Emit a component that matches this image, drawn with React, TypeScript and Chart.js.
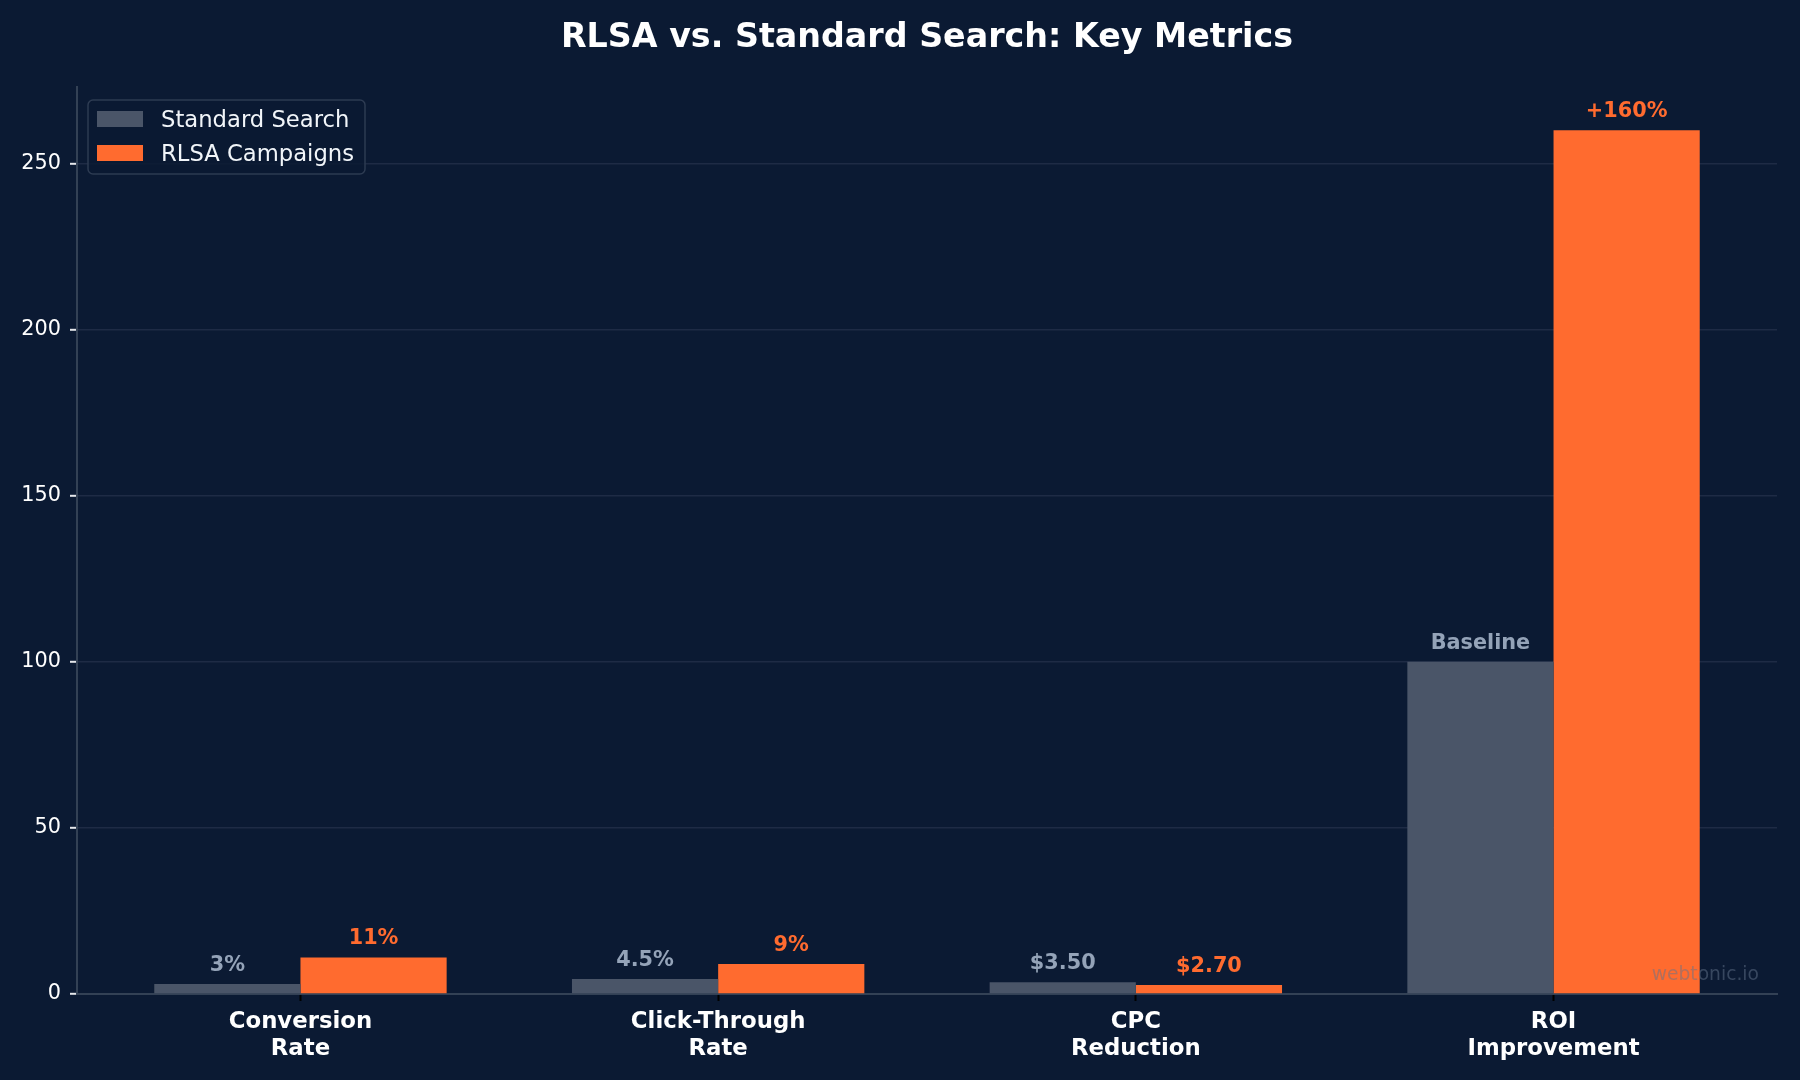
import { useEffect, useRef } from 'react';
import { Chart, registerables } from 'chart.js';

Chart.register(...registerables);

const categories: string[][] = [
  ['Conversion', 'Rate'],
  ['Click-Through', 'Rate'],
  ['CPC', 'Reduction'],
  ['ROI', 'Improvement'],
];
const seriesNames = ['Standard Search', 'RLSA Campaigns'];
const standardValues = [3, 4.5, 3.5, 100];
const rlsaValues = [11, 9, 2.7, 260];
const standardLabels = ['3%', '4.5%', '$3.50', 'Baseline'];
const rlsaLabels = ['11%', '9%', '$2.70', '+160%'];
const yTicks = [0, 50, 100, 150, 200, 250];
const titleText = 'RLSA vs. Standard Search: Key Metrics';
const watermark = 'webtonic.io';

const FONT = '"DejaVu Sans", sans-serif';
const BG = '#0b1a33';
const STD = '#4a5568';
const RLSA = '#ff6b2f';
const STD_LABEL = '#94a3b8';
const GRID = '#1e2b45';
const AXIS = '#334155';

export default function App() {
  const ref = useRef<HTMLCanvasElement>(null);

  useEffect(() => {
    document.body.style.margin = '0';
    document.body.style.background = BG;
    Chart.defaults.font.family = FONT;

    const decor = {
      id: 'decor',
      beforeDraw(chart: any) {
        const { ctx, width, height } = chart;
        ctx.save();
        ctx.fillStyle = BG;
        ctx.fillRect(0, 0, width, height);
        ctx.restore();
      },
      afterDatasetsDraw(chart: any) {
        const { ctx } = chart;
        ctx.save();
        const labelSets = [standardLabels, rlsaLabels];
        const colors = [STD_LABEL, RLSA];
        ctx.font = `bold 20.8px ${FONT}`;
        ctx.textAlign = 'center';
        ctx.textBaseline = 'alphabetic';
        labelSets.forEach((labels, di) => {
          const meta = chart.getDatasetMeta(di);
          ctx.fillStyle = colors[di];
          meta.data.forEach((el: any, i: number) => {
            ctx.fillText(labels[i], el.x, el.y - 13);
          });
        });
        // watermark
        ctx.font = `18.7px ${FONT}`;
        ctx.textAlign = 'right';
        ctx.fillStyle = 'rgba(100,116,139,0.5)';
        ctx.fillText(watermark, 1759, 980);
        ctx.restore();
      },
      afterDraw(chart: any) {
        const { ctx, chartArea } = chart;
        ctx.save();
        // title
        ctx.font = `bold 33.3px ${FONT}`;
        ctx.fillStyle = '#ffffff';
        ctx.textAlign = 'center';
        ctx.textBaseline = 'alphabetic';
        ctx.fillText(titleText, (chartArea.left + chartArea.right) / 2, 47);
        // legend
        const lx = 88, ly = 100, lw = 277, lh = 74;
        ctx.beginPath();
        ctx.roundRect(lx, ly, lw, lh, 5);
        ctx.fillStyle = 'rgba(11,26,51,0.85)';
        ctx.fill();
        ctx.lineWidth = 1.5;
        ctx.strokeStyle = '#2d3b52';
        ctx.stroke();
        const swatch = [STD, RLSA];
        ctx.font = `22.7px ${FONT}`;
        ctx.textAlign = 'left';
        seriesNames.forEach((name, i) => {
          const base = 127 + i * 34;
          ctx.fillStyle = swatch[i];
          ctx.fillRect(97, base - 16, 46, 16);
          ctx.fillStyle = '#f1f5f9';
          ctx.fillText(name, 161, base);
        });
        ctx.restore();
      },
    };

    const chart = new Chart(ref.current!, {
      type: 'bar',
      data: {
        datasets: [
          {
            label: seriesNames[0],
            data: standardValues.map((v, i) => ({ x: i, y: v })),
            backgroundColor: STD,
            categoryPercentage: 0.7,
            barPercentage: 1.0,
          },
          {
            label: seriesNames[1],
            data: rlsaValues.map((v, i) => ({ x: i, y: v })),
            backgroundColor: RLSA,
            categoryPercentage: 0.7,
            barPercentage: 1.0,
          },
        ] as any,
      },
      options: {
        responsive: false,
        animation: false,
        layout: { padding: { left: 0, right: 23, top: 87, bottom: 0 } },
        plugins: {
          legend: { display: false },
          title: { display: false },
          tooltip: { enabled: false },
        },
        scales: {
          x: {
            type: 'linear',
            min: -0.535,
            max: 3.535,
            offset: false,
            grid: {
              display: true,
              drawOnChartArea: false,
              drawTicks: true,
              tickLength: 7,
              tickColor: '#000000',
              tickWidth: 2,
              offset: false,
            },
            border: { color: AXIS, width: 2 },
            afterBuildTicks: (s: any) => {
              s.ticks = categories.map((_, i) => ({ value: i }));
            },
            afterFit: (s: any) => {
              s.height = 86;
            },
            ticks: {
              callback: (v: any) => categories[v] ?? '',
              font: { family: FONT, size: 22.8, weight: 'bold', lineHeight: 1.2 },
              color: '#ffffff',
              padding: 7,
              maxRotation: 0,
              autoSkip: false,
            },
          },
          y: {
            min: 0,
            max: 273,
            afterBuildTicks: (s: any) => {
              s.ticks = yTicks.map((v) => ({ value: v }));
            },
            afterFit: (s: any) => {
              s.width = 77;
            },
            grid: {
              color: GRID,
              lineWidth: 1.6,
              tickColor: '#e5e7eb',
              tickLength: 7,
              tickWidth: 2,
            },
            border: { color: AXIS, width: 2 },
            ticks: {
              color: '#ffffff',
              font: { family: FONT, size: 20.8 },
              padding: 9,
            },
          },
        } as any,
      },
      plugins: [decor],
    });
    return () => chart.destroy();
  }, []);

  return <canvas ref={ref} width={1800} height={1080} style={{ display: 'block' }} />;
}
